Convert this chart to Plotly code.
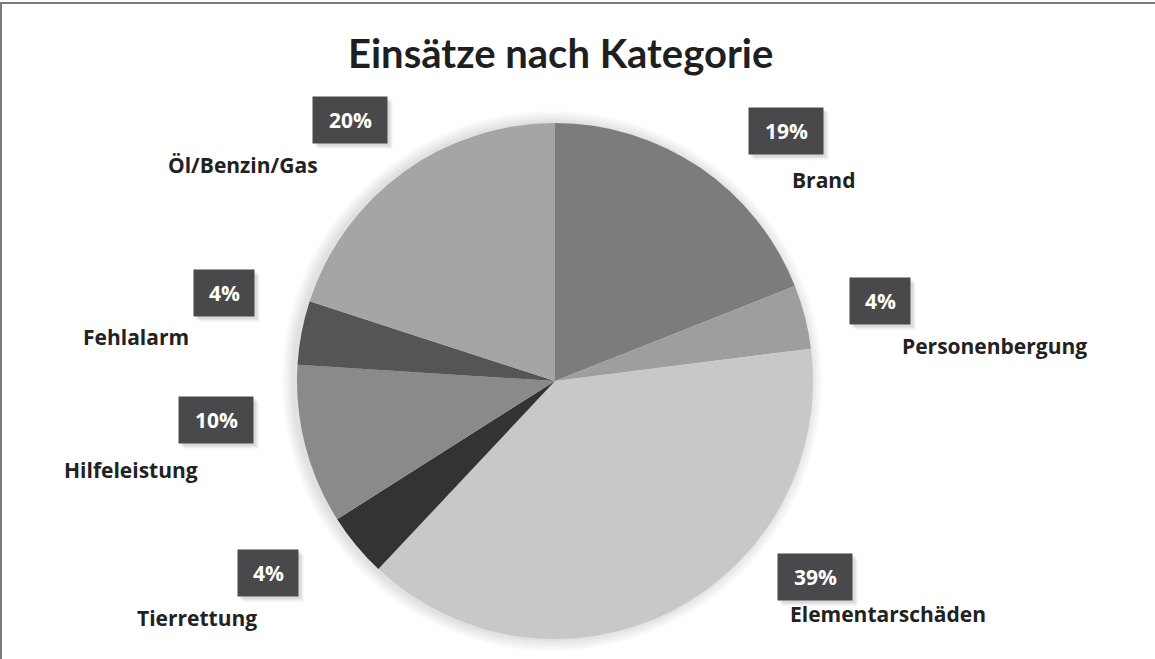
import plotly.graph_objects as go

# ---- data ----
categories = ["Brand", "Personenbergung", "Elementarschäden", "Tierrettung",
              "Hilfeleistung", "Fehlalarm", "Öl/Benzin/Gas"]
percent_values = [19, 4, 39, 4, 10, 4, 20]
slice_colors = ["#7c7c7f", "#9e9ea0", "#c8c8ca", "#333334",
                "#8a8a8c", "#555557", "#a5a5a8"]

# ---- layout constants (pixels in a 1155x659 canvas) ----
W, H = 1155, 659
CX, CY, R = 555, 381, 258
# percentage box centres and category name centres (pixels)
box_pos = [(786, 131), (880, 301), (815, 577), (268, 573), (216, 420), (224, 293), (350, 120)]
name_pos = [(823, 180), (994, 346), (888, 614), (197, 618), (131, 470), (136, 337), (243, 165)]

def px(x):
    return x / W

def py(y):
    return 1 - y / H

fig = go.Figure(go.Pie(
    labels=categories,
    values=percent_values,
    marker=dict(colors=slice_colors, line=dict(width=0)),
    sort=False,
    direction="clockwise",
    rotation=0,
    textinfo="none",
    hoverinfo="label+percent",
    showlegend=False,
    domain=dict(x=[px(CX - R), px(CX + R)], y=[py(CY + R), py(CY - R)]),
))

common = dict(xref="paper", yref="paper", showarrow=False, xanchor="center", yanchor="middle")
annotations = []
shapes = []

def rect(x0, y0, x1, y1, color):
    return dict(type="rect", xref="paper", yref="paper",
                x0=px(x0), x1=px(x1), y0=py(y1), y1=py(y0),
                fillcolor=color, line=dict(width=0))

for cat, val, (bx, by), (nx, ny) in zip(categories, percent_values, box_pos, name_pos):
    txt = f"{val}%"
    bw = 75 if len(str(val)) > 1 else 61
    bh = 47
    # soft shadow (bottom-right)
    for off, a in [(5, 0.06), (3, 0.09)]:
        shapes.append(rect(bx - bw / 2 + off, by - bh / 2 + off,
                           bx + bw / 2 + off, by + bh / 2 + off, f"rgba(0,0,0,{a})"))
    shapes.append(rect(bx - bw / 2, by - bh / 2, bx + bw / 2, by + bh / 2, "#49494b"))
    annotations.append(dict(
        x=px(bx), y=py(by), **common,
        text=f"<b>{txt}</b>", font=dict(family="Open Sans", size=21, color="#ffffff"),
    ))
    annotations.append(dict(
        x=px(nx), y=py(ny), **common,
        text=f"<b>{cat}</b>", font=dict(family="Open Sans", size=21, color="#222222"),
    ))

annotations.append(dict(
    x=px(560), y=py(53), **common,
    text="<b>Einsätze nach Kategorie</b>",
    font=dict(family="Lato", size=40, color="#1f1f1f"),
))

shapes += [
    dict(type="line", xref="paper", yref="paper", x0=0, x1=1, y0=py(3), y1=py(3),
         line=dict(color="#7a7a7a", width=2)),
    dict(type="line", xref="paper", yref="paper", x0=px(1), x1=px(1), y0=0, y1=py(3),
         line=dict(color="#7a7a7a", width=2)),
]
# soft glow behind the pie
for i in range(1, 7):
    rr = R + 2 * i
    shapes.append(dict(
        type="circle", xref="paper", yref="paper", layer="below",
        x0=px(CX - rr - 3), x1=px(CX + rr - 3), y0=py(CY + rr), y1=py(CY - rr),
        fillcolor="rgba(0,0,0,0.02)", line=dict(width=0),
    ))

fig.update_layout(
    width=W, height=H,
    margin=dict(l=0, r=0, t=0, b=0),
    paper_bgcolor="#ffffff",
    plot_bgcolor="#ffffff",
    annotations=annotations,
    shapes=shapes,
)

fig.write_html("out.html", config={"displayModeBar": False},
               post_script="document.body.style.margin='0';document.body.style.overflow='hidden';")
